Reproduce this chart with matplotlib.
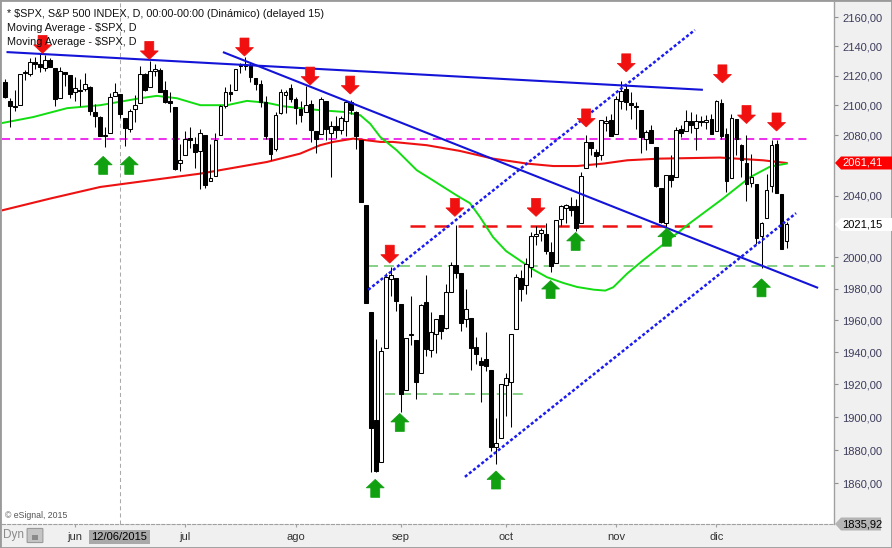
import matplotlib
matplotlib.use('Agg')
import matplotlib.pyplot as plt
import matplotlib.patches as mpatches
import matplotlib.transforms as mtrans
from matplotlib.ticker import NullLocator, NullFormatter

plt.rcParams['font.family'] = ['Liberation Sans', 'DejaVu Sans']
plt.rcParams['lines.scale_dashes'] = False

W, H = 892, 548

# daily OHLC, 11 May 2015 .. 21 Dec 2015
opens = [
    2115.56, 2102.87, 2099.62, 2100.43, 2122.07, 2121.30, 2129.45, 2127.79, 2125.55, 2130.36, 2125.34, 2105.13, 2122.27, 2120.66,
    2108.64, 2110.41, 2110.64, 2112.35, 2095.09, 2092.34, 2079.07, 2081.12, 2106.24, 2107.43, 2091.34, 2084.26, 2097.40, 2101.58,
    2121.06, 2112.50, 2123.16, 2123.65, 2109.96, 2102.62, 2098.63, 2061.19,
    2067.00, 2078.03, 2073.95, 2069.52, 2080.04, 2049.73, 2052.74, 2080.03, 2099.72, 2109.21, 2110.55, 2126.80, 2126.85, 2127.55,
    2118.21, 2114.16, 2102.24, 2078.19, 2070.75, 2094.70, 2106.78, 2111.60,
    2104.49, 2097.68, 2095.27, 2100.75, 2082.61, 2080.98, 2102.66, 2081.10, 2086.19, 2083.15, 2089.70, 2101.99, 2095.69, 2076.61,
    2034.08, 1965.15, 1898.08, 1872.75, 1942.77, 1986.06, 1986.73,
    1970.09, 1916.52, 1950.79, 1947.76, 1927.30, 1971.45, 1941.59, 1951.45, 1963.06, 1955.10, 1978.02, 1995.33, 1989.66, 1960.84,
    1961.39, 1943.24, 1934.81, 1935.93, 1929.18, 1881.90, 1887.14,
    1919.65, 1921.77, 1954.33, 1986.63, 1982.34, 1994.01, 2013.73, 2015.65, 2015.00, 2003.66, 1996.47, 2024.37, 2031.73, 2033.13,
    2033.47, 2021.88, 2058.19, 2075.08, 2068.75, 2066.48, 2088.35, 2090.00,
    2080.76, 2102.63, 2110.60, 2101.68, 2098.60, 2096.56, 2077.19, 2083.41, 2072.29, 2044.64, 2022.08, 2053.67, 2051.99, 2083.70,
    2082.82, 2089.41, 2084.42, 2089.30, 2088.82, 2090.95,
    2082.93, 2101.71, 2080.71, 2051.24, 2090.42, 2073.39, 2061.17, 2047.93, 2047.27, 2013.37, 2025.55, 2046.50, 2073.76, 2040.81,
    2010.27,
]
highs = [
    2117.69, 2105.06, 2110.19, 2121.45, 2123.89, 2131.78, 2133.02, 2134.72, 2134.28, 2132.15, 2125.34, 2126.22, 2122.27, 2120.66,
    2119.15, 2117.59, 2121.92, 2112.89, 2100.99, 2093.01, 2085.62, 2108.50, 2115.02, 2107.43, 2091.34, 2097.40, 2106.79, 2126.65,
    2121.64, 2129.87, 2128.03, 2125.10, 2116.04, 2108.92, 2098.63, 2074.28,
    2082.78, 2085.06, 2078.61, 2083.74, 2080.04, 2074.28, 2081.31, 2099.88, 2111.98, 2114.14, 2124.42, 2128.91, 2132.82, 2128.48,
    2118.51, 2116.87, 2106.01, 2078.19, 2095.60, 2110.60, 2110.48, 2114.24,
    2105.70, 2102.51, 2112.66, 2103.32, 2082.61, 2105.35, 2102.66, 2089.06, 2092.93, 2092.45, 2102.87, 2103.47, 2096.17, 2076.61,
    2034.08, 1965.15, 1948.04, 1943.09, 1989.60, 1993.48, 1986.73,
    1970.09, 1948.91, 1975.01, 1947.76, 1970.42, 1988.63, 1965.29, 1961.05, 1963.06, 1983.19, 1997.26, 2020.86, 1989.66, 1979.64,
    1961.39, 1949.52, 1937.17, 1952.89, 1929.18, 1899.48, 1920.53,
    1927.21, 1951.36, 1989.17, 1991.62, 1999.31, 2016.50, 2020.13, 2018.66, 2022.34, 2009.56, 2024.15, 2033.54, 2034.45, 2039.12,
    2037.97, 2055.20, 2079.74, 2075.14, 2070.37, 2090.35, 2092.52, 2094.32,
    2106.20, 2116.48, 2114.59, 2108.78, 2101.91, 2096.56, 2083.67, 2086.94, 2072.29, 2044.64, 2053.22, 2066.69, 2085.31, 2086.74,
    2097.06, 2095.61, 2094.12, 2093.00, 2093.29, 2093.81,
    2103.37, 2104.27, 2085.00, 2093.84, 2090.42, 2073.85, 2080.33, 2067.65, 2047.27, 2022.92, 2053.87, 2076.72, 2076.37, 2040.81,
    2022.90,
]
lows = [
    2104.58, 2085.57, 2096.04, 2100.43, 2116.81, 2120.01, 2124.50, 2122.59, 2122.95, 2126.06, 2099.18, 2105.13, 2112.86, 2104.89,
    2102.54, 2099.14, 2109.61, 2093.23, 2085.67, 2079.11, 2072.14, 2081.12, 2106.24, 2091.33, 2072.49, 2082.10, 2088.86, 2101.58,
    2109.45, 2112.50, 2119.89, 2108.58, 2101.78, 2095.38, 2056.64, 2056.32,
    2067.00, 2071.02, 2058.40, 2044.02, 2044.66, 2049.73, 2052.74, 2080.03, 2098.18, 2102.49, 2110.55, 2122.01, 2123.66, 2115.40,
    2110.00, 2098.63, 2077.09, 2063.52, 2069.09, 2094.08, 2094.97, 2102.07,
    2087.31, 2088.60, 2095.27, 2075.53, 2067.91, 2080.98, 2076.49, 2052.09, 2078.26, 2080.61, 2079.30, 2094.14, 2070.53, 2035.73,
    1970.89, 1867.01, 1867.08, 1872.75, 1942.77, 1975.19, 1965.98,
    1903.07, 1916.52, 1944.72, 1911.21, 1927.30, 1937.88, 1937.19, 1939.19, 1948.27, 1954.30, 1977.93, 1986.73, 1953.45, 1955.80,
    1929.22, 1932.57, 1908.92, 1928.09, 1879.21, 1871.91, 1887.14,
    1900.70, 1893.70, 1954.33, 1971.99, 1976.44, 1987.53, 2007.61, 2010.55, 2001.78, 1990.73, 1996.47, 2020.46, 2022.31, 2026.61,
    2017.22, 2021.88, 2058.19, 2066.53, 2058.84, 2063.11, 2082.63, 2079.34,
    2080.76, 2097.51, 2096.98, 2090.41, 2083.74, 2068.24, 2069.91, 2074.85, 2045.66, 2022.02, 2019.39, 2045.90, 2051.99, 2078.76,
    2082.82, 2081.39, 2070.29, 2086.30, 2084.13, 2080.41,
    2082.93, 2077.11, 2042.35, 2051.24, 2066.78, 2052.32, 2036.53, 2045.67, 2008.80, 1993.26, 2025.55, 2042.43, 2041.66, 2005.33,
    2005.93,
]
closes = [
    2105.33, 2099.12, 2098.48, 2121.10, 2122.73, 2129.20, 2127.83, 2125.85, 2130.82, 2126.06, 2104.20, 2123.48, 2120.79, 2107.39,
    2111.73, 2109.60, 2114.07, 2095.84, 2092.83, 2079.28, 2080.15, 2105.20, 2108.86, 2094.11, 2084.43, 2096.29, 2100.44, 2121.24,
    2109.99, 2122.85, 2124.20, 2108.58, 2102.31, 2101.49, 2057.64, 2063.11,
    2077.42, 2076.78, 2068.76, 2081.34, 2046.68, 2051.31, 2076.62, 2099.60, 2108.95, 2107.40, 2124.29, 2126.64, 2128.28, 2119.21,
    2114.15, 2102.15, 2079.65, 2067.64, 2093.25, 2108.57, 2108.63, 2103.84,
    2098.04, 2093.32, 2099.84, 2083.56, 2077.57, 2104.18, 2084.07, 2086.05, 2083.39, 2091.54, 2102.44, 2096.92, 2079.61, 2035.73,
    1970.89, 1893.21, 1867.61, 1940.51, 1987.66, 1988.87, 1972.18,
    1913.85, 1948.86, 1951.13, 1921.22, 1969.41, 1942.04, 1952.29, 1961.05, 1953.03, 1978.09, 1995.31, 1990.20, 1958.03, 1966.97,
    1942.74, 1938.76, 1932.24, 1931.34, 1881.77, 1884.09, 1920.03,
    1923.82, 1951.36, 1987.05, 1979.92, 1995.83, 2013.43, 2014.89, 2017.46, 2003.69, 1994.24, 2023.86, 2033.11, 2033.66, 2030.77,
    2018.94, 2052.51, 2075.15, 2071.18, 2065.89, 2090.35, 2089.41, 2079.36,
    2104.05, 2109.79, 2102.31, 2099.93, 2099.20, 2078.58, 2081.72, 2075.00, 2045.97, 2023.04, 2053.19, 2050.44, 2083.58, 2081.24,
    2089.17, 2086.59, 2089.14, 2088.87, 2090.11, 2080.41,
    2102.63, 2079.51, 2049.62, 2091.69, 2077.07, 2063.59, 2047.62, 2052.23, 2012.37, 2021.94, 2043.41, 2073.07, 2041.89, 2005.55,
    2021.15,
]

month_idx = [14, 36, 58, 79, 100, 122, 142]
month_lbl = ['jun', 'jul', 'ago', 'sep', 'oct', 'nov', 'dic']
# 2020 and 2060 are hidden behind the price tags in the original
price_ticks = [1860, 1880, 1900, 1920, 1940, 1960, 1980, 2000, 2040, 2080, 2100, 2120, 2140, 2160]
cursor_idx = 23
cursor_lbl = '12/06/2015'

# moving averages (bar index, value)
ma50_idx = [-0.6, 5.6, 12.4, 19, 27, 30.3, 34.3, 39, 44.3, 48.3, 52.3, 55.5, 62.9, 67.5, 70.9, 72.9, 74.9, 78.2,
            82.2, 85.4, 90.2, 92.8, 94.8, 97.4, 100, 102.8, 105.5, 108.2, 111.5, 114.2, 117.5, 119.8, 121.4, 124.2,
            127.3, 130.7, 136.7, 143.3, 148.7, 152.7, 156]
ma50_val = [2088, 2092, 2098, 2100, 2104.7, 2106.3, 2104.7, 2100, 2100, 2102.9, 2101.6, 2099.3, 2096.6, 2095.5,
            2093.3, 2087.5, 2078.7, 2069.8, 2056.6, 2050, 2040, 2035, 2026, 2013, 2004, 1997.9, 1992, 1987.2, 1983.5,
            1981, 1979.3, 1978.7, 1980.8, 1989.6, 1997.9, 2006.5, 2022, 2038, 2052, 2059, 2061]
ma200_idx = [-0.6, 9, 19, 29, 39, 52.3, 58.9, 62.9, 65.5, 69.5, 74.9, 77.4, 84.2, 90.8, 97.4, 104.2, 109.4,
             114.2, 119.4, 124.2, 130.7, 142.7, 151.3, 156]
ma200_val = [2030.3, 2038, 2045.6, 2050, 2054.4, 2062.1, 2067.6, 2073.2, 2075.4, 2077.6, 2075.4, 2075.4, 2073.2,
             2069.4, 2064.3, 2061, 2059.4, 2059.4, 2061, 2063.2, 2064.3, 2065, 2063.2, 2061.41]

# drawn trend lines: (start idx, end idx), (start price, end price)
trend_solid = [((0.3, 139.3), (2136.1, 2110.4)),
               ((43.5, 162.3), (2136.1, 1980.4))]
trend_dotted = [((72.5, 137.7), (1979.2, 2151.3)),
                ((91.8, 157.9), (1863.9, 2028.5))]

# horizontal levels: price, start idx, end idx
lvl_magenta = (2077.5, -0.6, 160.3)
lvl_red = (2020.0, 80.8, 141.2)
lvl_green = [(1994.1, 72.5, 165.5), (1913.9, 75.8, 103.8)]

# signal arrows (bar index, price at the tip)
down_idx = [7.5, 28.8, 47.8, 60.9, 68.9, 76.8, 89.8, 106, 116, 124, 143.2, 148, 154]
down_px = [2135.2, 2131.1, 2133.4, 2113.6, 2107.5, 1996.2, 2026.4, 2026.4, 2085.4, 2122.6, 2115.1, 2087.7, 2082.7]
up_idx = [19.6, 24.8, 73.9, 78.8, 98, 108.9, 113.9, 132.1, 151]
up_px = [2065.8, 2065.8, 1862.4, 1902.2, 1867.4, 1985.1, 2016, 2018.7, 1986.2]


def fx(x):
    return x / W


def fy(y):
    return 1 - y / H


fig = plt.figure(figsize=(W / 100, H / 100), dpi=100)
fig.patch.set_facecolor('#f0f0f0')
ax = fig.add_axes([fx(2), fy(524), (834 - 2) / W, (524 - 2) / H])
ax.set_facecolor('white')
ax.set_yscale('log')
ax.set_xlim(-0.6, 165.47)
ax.set_ylim(1835.92, 2170.7)

# candles
n = len(closes)
xs = list(range(n))
ax.vlines(xs, lows, highs, colors='black', linewidth=0.75, zorder=3)
bottoms = [min(o, c) for o, c in zip(opens, closes)]
heights = [max(abs(c - o), 0.4) for o, c in zip(opens, closes)]
fills = ['white' if c >= o else 'black' for o, c in zip(opens, closes)]
ax.bar(xs, heights, bottom=bottoms, width=0.76, color=fills, edgecolor='black', linewidth=0.75, zorder=3.5)

# moving averages
ax.plot(ma200_idx, ma200_val, color='#ee1111', linewidth=1.5, zorder=2.6)
ax.plot(ma50_idx, ma50_val, color='#11dd11', linewidth=1.4, zorder=2.7)

# horizontal levels
p, a, b = lvl_magenta
ax.hlines(p, a, b, colors='#ee33ee', linewidth=1.45, linestyles=(0, (5.8, 3.6)), zorder=2.5)
p, a, b = lvl_red
ax.hlines(p, a, b, colors='#ee1111', linewidth=1.8, linestyles=(0, (10.8, 6.5)), zorder=2.5)
for p, a, b in lvl_green:
    ax.hlines(p, a, b, colors='#66c466', linewidth=1.1, linestyles=(0, (7.2, 4.3)), zorder=2.5)

# trend lines
for (xa, xb), (ya, yb) in trend_solid:
    ax.plot([xa, xb], [ya, yb], color='#1414d8', linewidth=1.5, zorder=4, solid_capstyle='butt')
for (xa, xb), (ya, yb) in trend_dotted:
    ax.plot([xa, xb], [ya, yb], color='#1c1cf0', linewidth=1.8, linestyle=(0, (2.2, 1.6)), zorder=4)

# cursor line
ax.axvline(cursor_idx, color='#aaaaaa', linewidth=0.75, linestyle=(0, (2.9, 2.2)), zorder=1)


def block_arrow(x, y, up, color):
    s = 1 if up else -1
    pts = [(0, 0), (9, -8.5 * s), (4.5, -8.5 * s), (4.5, -18 * s),
           (-4.5, -18 * s), (-4.5, -8.5 * s), (-9, -8.5 * s)]
    tr = mtrans.Affine2D() + mtrans.ScaledTranslation(x, y, ax.transData)
    poly = mpatches.Polygon(pts, closed=True, transform=tr, facecolor=color,
                            edgecolor=color, linewidth=0.5, zorder=6)
    ax.add_artist(poly)
    poly.set_clip_on(False)


for x, y in zip(down_idx, down_px):
    block_arrow(x, y, False, '#f01010')
for x, y in zip(up_idx, up_px):
    block_arrow(x, y, True, '#10a010')

# axes styling
for side in ['top', 'left']:
    ax.spines[side].set_visible(False)
ax.spines['right'].set_color('#a0a0a0')
ax.spines['right'].set_linewidth(1)
ax.spines['bottom'].set_color('#a0a0a0')
ax.spines['bottom'].set_linewidth(0.8)
ax.spines['bottom'].set_linestyle((0, (2.2, 1.5)))

ax.yaxis.set_ticks_position('right')
ax.yaxis.set_minor_locator(NullLocator())
ax.yaxis.set_minor_formatter(NullFormatter())
ax.set_yticks(price_ticks)
ax.set_yticklabels([f'{v:.2f}'.replace('.', ',') for v in price_ticks])
ax.tick_params(axis='y', length=3, width=0.8, color='#909090', pad=3, labelsize=8, labelcolor='#3c3c5c')
ax.set_xticks(month_idx)
ax.set_xticklabels(month_lbl)
ax.tick_params(axis='x', length=2, width=0.8, color='#a0a0a0', pad=4, labelsize=8, labelcolor='#333333')


def price_tag(price, text, fc, tc, wpx):
    blend = mtrans.blended_transform_factory(fig.transFigure, ax.transData)
    tr = mtrans.Affine2D() + mtrans.ScaledTranslation(fx(835), price, blend)
    pts = [(0, 0), (6, 6.5), (wpx, 6.5), (wpx, -6.5), (6, -6.5)]
    fig.add_artist(mpatches.Polygon(pts, closed=True, transform=tr, facecolor=fc,
                                    edgecolor='none', zorder=5))
    fig.text(7, 0, text, transform=tr, fontsize=8, color=tc, va='center', ha='left', zorder=6)


price_tag(ma200_val[-1], f'{ma200_val[-1]:.2f}'.replace('.', ','), '#ff0000', 'white', 58)
price_tag(closes[-1], f'{closes[-1]:.2f}'.replace('.', ','), 'white', 'black', 58)
price_tag(1835.92, '1835,92', '#b4b4b4', 'black', 46)

# header texts
hdr = ['* $SPX, S&P 500 INDEX, D, 00:00-00:00 (Dinámico) (delayed 15)',
       'Moving Average - $SPX, D', 'Moving Average - $SPX, D']
for i, t in enumerate(hdr):
    fig.text(fx(7), fy(14 + 14.2 * i), t, fontsize=7.8, color='#111111', va='center', ha='left',
             parse_math=False)
fig.text(fx(5), fy(516), '© eSignal, 2015', fontsize=6.3, color='#555555', va='center', ha='left')

# bottom band extras
fig.text(fx(119.5), fy(537), cursor_lbl, fontsize=8, color='black', va='center', ha='center',
         bbox=dict(boxstyle='square,pad=0.22', fc='#a9a9a9', ec='none'))
fig.text(fx(3), fy(535), 'Dyn', fontsize=8.5, color='#8a8a8a', va='center', ha='left')
fig.add_artist(mpatches.FancyBboxPatch((fx(28), fy(542)), 14 / W, 13 / H,
                                       boxstyle='round,pad=0.001', transform=fig.transFigure,
                                       fc='#c4c4c4', ec='#9a9a9a', lw=0.8))
fig.add_artist(mpatches.Rectangle((fx(32), fy(540)), 6 / W, 5 / H, transform=fig.transFigure,
                                  fc='#8a8a8a', ec='none'))

fig.add_artist(mpatches.Rectangle((0, 0), 1, 1, transform=fig.transFigure, fill=False,
                                  ec='#9a9a9a', lw=2))

fig.savefig('out.png', dpi=100, facecolor=fig.get_facecolor())
